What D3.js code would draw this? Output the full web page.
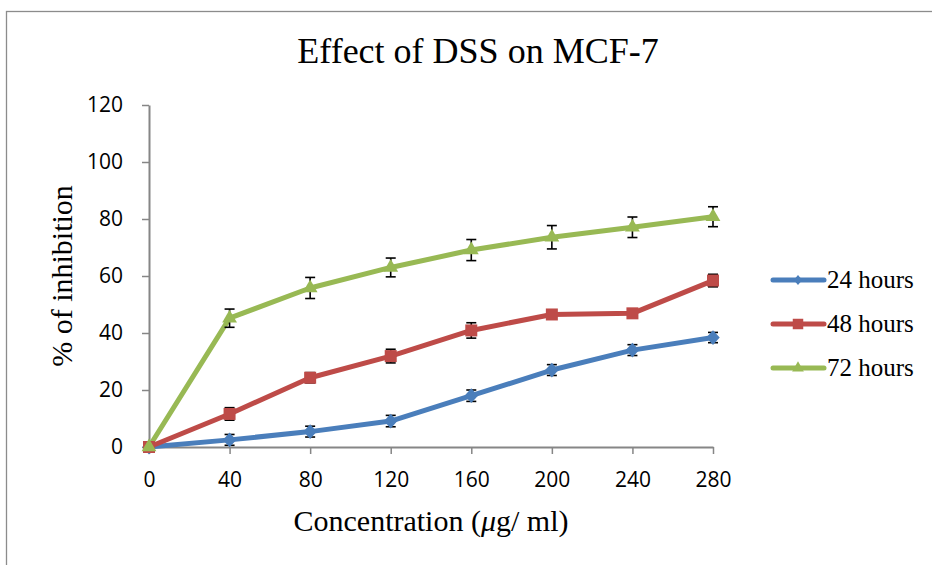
<!DOCTYPE html>
<html><head><meta charset="utf-8">
<script src="https://cdn.jsdelivr.net/npm/d3@7"></script>
<style>html,body{margin:0;padding:0;background:#fff;}svg{display:block;}</style>
</head><body>
<svg id="chart" width="932" height="565"></svg>
<script>
const concentrations = [0, 40, 80, 120, 160, 200, 240, 280];
const seriesNames = ["24 hours", "48 hours", "72 hours"];
const values24 = [0, 2.5, 5.4, 9.1, 18.0, 27.0, 34.0, 38.4];
const values48 = [0, 11.6, 24.3, 31.9, 40.9, 46.5, 46.9, 58.4];
const values72 = [0, 45.2, 55.8, 63.0, 69.1, 73.6, 77.1, 80.8];
const err24 = [0, 1.9, 1.9, 2.0, 2.0, 1.9, 1.9, 1.8];
const err48 = [0, 2.2, 1.8, 2.4, 2.7, 1.2, 1.2, 2.2];
const err72 = [0, 3.2, 3.7, 3.3, 3.7, 4.1, 3.6, 3.5];
const yTicks = [0, 20, 40, 60, 80, 100, 120];
const colors = ["#4a7ebb", "#be4b48", "#98b954"];

const svg = d3.select("#chart");
// chart border
svg.append("rect").attr("x", 6.5).attr("y", 11.5).attr("width", 940).attr("height", 570)
  .attr("fill", "none").attr("stroke", "#8c8c8c").attr("stroke-width", 1.3);

const x = d3.scaleLinear().domain([0, 280]).range([149, 713]);
const y = d3.scaleLinear().domain([0, 120]).range([447, 105]);

// Axes
const xAxis = d3.axisBottom(x).tickValues(concentrations).tickSize(7).tickSizeOuter(0).tickPadding(20);
const yAxis = d3.axisLeft(y).tickValues(yTicks).tickSize(7).tickSizeOuter(0).tickPadding(19);
const gx = svg.append("g").attr("transform", "translate(0,447)").call(xAxis);
const gy = svg.append("g").attr("transform", "translate(149,0)").call(yAxis);
[gx, gy].forEach(g => {
  g.select(".domain").attr("stroke", "#868686").attr("stroke-width", 2);
  g.selectAll(".tick line").attr("stroke", "#868686").attr("stroke-width", 1.5);
  g.selectAll(".tick text").attr("fill", "#000").style("font-family", "'Open Sans', Lato, sans-serif")
    .style("font-size", "21px");
});
gx.selectAll(".tick text").attr("dy", "0.62em");

const data = [values24, values48, values72];
const errs = [err24, err48, err72];
const line = d3.line().x((d, i) => x(concentrations[i])).y(d => y(d));

data.forEach((vals, s) => {
  svg.append("path").datum(vals).attr("d", line).attr("fill", "none")
    .attr("stroke", colors[s]).attr("stroke-width", 5).attr("stroke-linejoin", "round");
});

// error bars (drawn beneath markers)
data.forEach((vals, s) => {
  const g = svg.append("g").attr("stroke", "#000").attr("stroke-width", 1.6).attr("fill", "none");
  vals.forEach((v, i) => {
    const e = errs[s][i];
    if (!e) return;
    const cx = x(concentrations[i]);
    const y1 = y(v + e), y2 = y(v - e);
    g.append("line").attr("x1", cx).attr("x2", cx).attr("y1", y1).attr("y2", y2);
    g.append("line").attr("x1", cx - 5).attr("x2", cx + 5).attr("y1", y1).attr("y2", y1);
    g.append("line").attr("x1", cx - 5).attr("x2", cx + 5).attr("y1", y2).attr("y2", y2);
  });
});

// markers
const markerDefs = [
  {type: d3.symbolSquare, size: 90, t: " scale(1,1.1) rotate(45)"},
  {type: d3.symbolSquare, size: 144, t: ""},
  {type: d3.symbolTriangle, size: 95, t: ""}
];
data.forEach((vals, s) => {
  const m = markerDefs[s];
  svg.append("g").selectAll("path").data(vals).join("path")
    .attr("d", d3.symbol().type(m.type).size(m.size))
    .attr("transform", (d, i) => `translate(${x(concentrations[i])},${y(d)})${m.t}`)
    .attr("fill", colors[s]);
});

// Title
svg.append("text").attr("x", 478).attr("y", 63).attr("text-anchor", "middle")
  .style("font-family", "'Liberation Serif', 'Times New Roman', serif").style("font-size", "36px")
  .text("Effect of DSS on MCF-7");

// Axis titles
const xt = svg.append("text").attr("x", 431).attr("y", 531).attr("text-anchor", "middle")
  .style("font-family", "'Liberation Serif', 'Times New Roman', serif").style("font-size", "30px");
xt.append("tspan").text("Concentration (");
xt.append("tspan").style("font-style", "italic").text("μ");
xt.append("tspan").text("g/ ml)");

svg.append("text").attr("transform", "translate(72,276) rotate(-90)").attr("text-anchor", "middle")
  .style("font-family", "'Liberation Serif', 'Times New Roman', serif").style("font-size", "30px")
  .text("% of inhibition");

// Legend
const legY = [280, 324, 368];
const legMarkers = [
  {type: d3.symbolSquare, size: 36, t: " scale(1,1.2) rotate(45)"},
  {type: d3.symbolSquare, size: 110, t: ""},
  {type: d3.symbolTriangle, size: 60, t: ""}
];
seriesNames.forEach((name, s) => {
  const g = svg.append("g");
  g.append("line").attr("x1", 773).attr("x2", 824).attr("y1", legY[s]).attr("y2", legY[s])
    .attr("stroke", colors[s]).attr("stroke-width", 5).attr("stroke-linecap", "round");
  g.append("path").attr("d", d3.symbol().type(legMarkers[s].type).size(legMarkers[s].size))
    .attr("transform", `translate(798,${legY[s]})${legMarkers[s].t}`).attr("fill", colors[s]);
  g.append("text").attr("x", 827).attr("y", legY[s] + 8)
    .style("font-family", "'Liberation Serif', 'Times New Roman', serif").style("font-size", "25px")
    .text(name);
});
</script>
</body></html>
